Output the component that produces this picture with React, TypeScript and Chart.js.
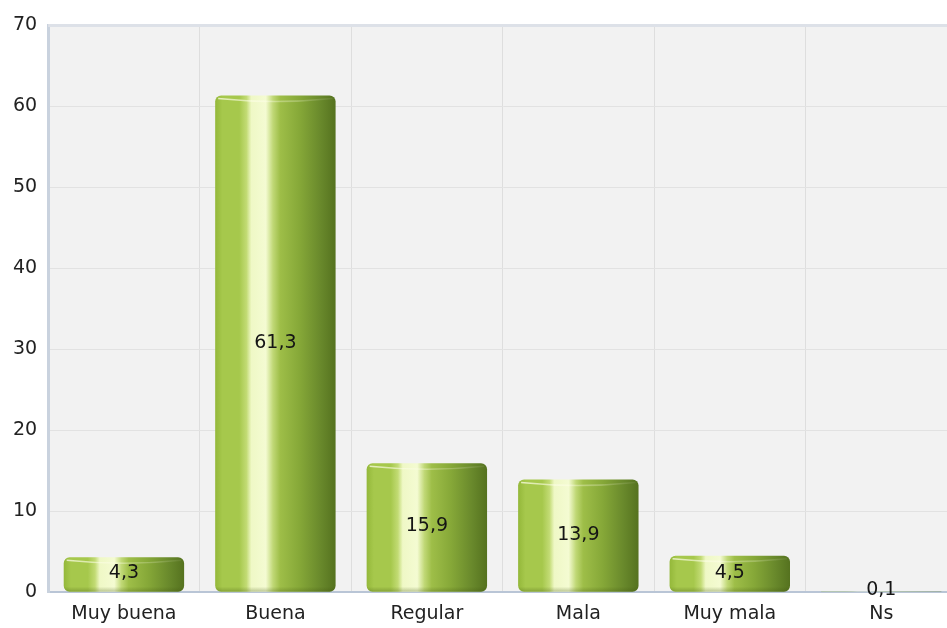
import React, { useEffect, useRef } from "react";
import { Chart, registerables } from "chart.js";

Chart.register(...registerables);

const categories = ["Muy buena", "Buena", "Regular", "Mala", "Muy mala", "Ns"];
const values = [4.3, 61.3, 15.9, 13.9, 4.5, 0.1];
const yTicks = [0, 10, 20, 30, 40, 50, 60, 70];

const FONT = "'DejaVu Sans', Verdana, sans-serif";
const BAR_PCT = 0.795;

const bgPlugin = {
  id: "plotBg",
  beforeDraw(chart: any) {
    const { ctx, chartArea } = chart;
    ctx.save();
    ctx.fillStyle = "#f2f2f2";
    ctx.fillRect(chartArea.left, chartArea.top, chartArea.right - chartArea.left, chartArea.bottom - chartArea.top);
    ctx.restore();
  },
  afterDraw(chart: any) {
    const { ctx, chartArea } = chart;
    ctx.save();
    ctx.strokeStyle = "#dde1e8";
    ctx.lineWidth = 3;
    ctx.beginPath();
    ctx.moveTo(chartArea.left, chartArea.top + 0.5);
    ctx.lineTo(chartArea.right, chartArea.top + 0.5);
    ctx.stroke();
    ctx.restore();
  },
};

const overlayPlugin = {
  id: "barOverlay",
  afterDatasetsDraw(chart: any) {
    const { ctx } = chart;
    const meta = chart.getDatasetMeta(0);
    meta.data.forEach((el: any, i: number) => {
      const { x, y, base, width } = el.getProps(["x", "y", "base", "width"], true);
      if (![x, y, base, width].every((v) => Number.isFinite(v))) return;
      const h = base - y;
      const left = x - width / 2;
      if (h > 6) {
        ctx.save();
        ctx.beginPath();
        ctx.roundRect(left, y, width, h, 6);
        ctx.clip();
        const gx = ctx.createLinearGradient(left, 0, left + width, 0);
        gx.addColorStop(0, "rgba(255,255,235,0.75)");
        gx.addColorStop(0.5, "rgba(255,255,235,0.35)");
        gx.addColorStop(1, "rgba(255,255,235,0.05)");
        ctx.strokeStyle = gx;
        ctx.lineWidth = 1.5;
        ctx.beginPath();
        ctx.moveTo(left + 3, y + 3);
        ctx.quadraticCurveTo(x, y + 9, left + width - 3, y + 3);
        ctx.stroke();
        const g2 = ctx.createLinearGradient(0, base - 5, 0, base);
        g2.addColorStop(0, "rgba(60,80,10,0)");
        g2.addColorStop(1, "rgba(60,80,10,0.3)");
        ctx.fillStyle = g2;
        ctx.fillRect(left, base - 5, width, 5);
        ctx.restore();
      }
      ctx.save();
      ctx.font = `19px ${FONT}`;
      ctx.fillStyle = "#151515";
      ctx.textAlign = "center";
      ctx.textBaseline = "middle";
      ctx.fillText(String(values[i]).replace(".", ","), x, (y + base) / 2 - 1);
      ctx.restore();
    });
  },
};

function barGradient(c: any) {
  const chart = c.chart;
  const xs = chart.scales?.x;
  if (!xs || c.dataIndex === undefined) return "#9cbf3e";
  const cx = xs.getPixelForValue(c.dataIndex);
  const w = (xs.width / categories.length) * BAR_PCT;
  if (!Number.isFinite(cx) || !Number.isFinite(w) || w <= 0) return "#9cbf3e";
  const g = chart.ctx.createLinearGradient(cx - w / 2, 0, cx + w / 2, 0);
  g.addColorStop(0, "#94b83a");
  g.addColorStop(0.06, "#a6c84c");
  g.addColorStop(0.2, "#a6c84c");
  g.addColorStop(0.26, "#c2db74");
  g.addColorStop(0.3, "#eff8c6");
  g.addColorStop(0.42, "#f4fbd2");
  g.addColorStop(0.48, "#c0d876");
  g.addColorStop(0.54, "#9ebe48");
  g.addColorStop(0.7, "#86a838");
  g.addColorStop(0.88, "#68882b");
  g.addColorStop(1, "#55721f");
  return g;
}

export default function App() {
  const ref = useRef<HTMLCanvasElement>(null);
  useEffect(() => {
    if (!ref.current) return;
    const chart = new Chart(ref.current, {
      type: "bar",
      data: {
        labels: categories,
        datasets: [
          {
            data: values,
            backgroundColor: barGradient,
            borderWidth: 0,
            borderRadius: 6,
            borderSkipped: false,
            barPercentage: BAR_PCT,
            categoryPercentage: 1,
          },
        ],
      },
      options: {
        animation: false,
        responsive: true,
        maintainAspectRatio: false,
        layout: { padding: { left: 2, right: 3, top: 25, bottom: 0 } },
        plugins: { legend: { display: false }, tooltip: { enabled: false } },
        scales: {
          x: {
            grid: { color: "#dedede", lineWidth: 1, offset: true, drawTicks: false },
            border: { color: "#b9c5d6", width: 2 },
            ticks: { font: { size: 19, family: FONT }, color: "#222", padding: 10 },
          },
          y: {
            min: yTicks[0],
            max: yTicks[yTicks.length - 1],
            afterBuildTicks: (axis: any) => {
              axis.ticks = yTicks.map((v) => ({ value: v }));
            },
            grid: { color: "#e2e2e2", lineWidth: 1, drawTicks: false },
            border: { color: "#c9d2de", width: 3 },
            ticks: { font: { size: 19, family: FONT }, color: "#222", padding: 11 },
          },
        },
      },
      plugins: [bgPlugin, overlayPlugin],
    });
    return () => chart.destroy();
  }, []);
  return (
    <div style={{ position: "fixed", left: 0, top: 0, width: 947, height: 628, overflow: "hidden", background: "#fff" }}>
      <div style={{ position: "relative", width: 960, height: 635 }}>
        <canvas ref={ref} />
      </div>
    </div>
  );
}
